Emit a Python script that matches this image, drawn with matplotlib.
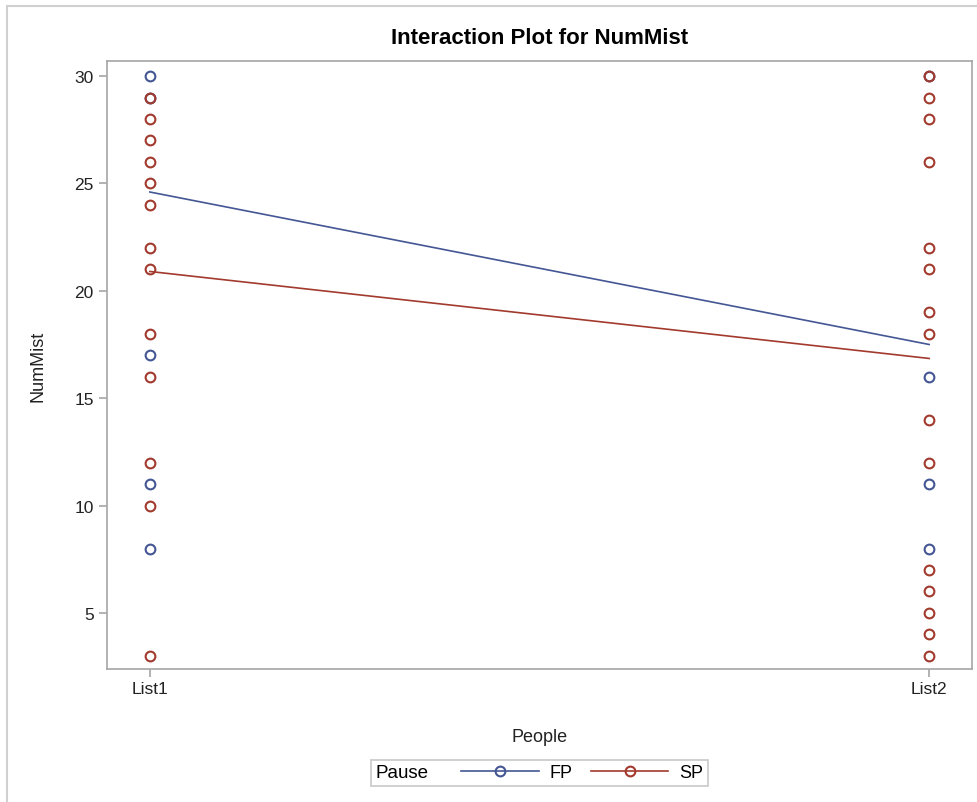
import numpy as np
import matplotlib
matplotlib.use("Agg")
import matplotlib.pyplot as plt
from matplotlib.lines import Line2D
from matplotlib.patches import Rectangle
from matplotlib.offsetbox import HPacker

plt.rcParams['font.family'] = ['Liberation Sans', 'DejaVu Sans']

# data
people = ['List1', 'List2']
groups = ['FP', 'SP']

fp_list1 = [30, 29, 17, 11, 8]
fp_list2 = [30, 16, 11, 8]
sp_list1 = [29, 28, 27, 26, 25, 24, 22, 21, 18, 16, 12, 10, 3]
sp_list2 = [30, 29, 28, 26, 22, 21, 19, 18, 14, 12, 7, 6, 5, 4, 3]

fp_means = [24.6, 17.5]
sp_means = [20.9, 16.85]

yticks = [5, 10, 15, 20, 25, 30]

blue = '#445694'
red = '#A23A2E'
axis_gray = '#a6a6a6'

fig = plt.figure(figsize=(9.78, 8.03), dpi=100)
ax = fig.add_axes([0.1094, 0.1656, 0.8845, 0.7572])

x = np.arange(len(people))

# raw points, red group on top so overlaps look like the original
ax.plot([x[0]] * len(sp_list1), sp_list1, 'o', mfc='none', mec=red, ms=7, mew=1.5, zorder=3)
ax.plot([x[1]] * len(sp_list2), sp_list2, 'o', mfc='none', mec=red, ms=7, mew=1.5, zorder=3)
ax.plot([x[0]] * len(fp_list1), fp_list1, 'o', mfc='none', mec=blue, ms=7, mew=1.5, zorder=2)
ax.plot([x[1]] * len(fp_list2), fp_list2, 'o', mfc='none', mec=blue, ms=7, mew=1.5, zorder=2)

# mean lines
ax.plot(x, fp_means, '-', color=blue, lw=1.2, zorder=4)
ax.plot(x, sp_means, '-', color=red, lw=1.2, zorder=4)

ax.set_xlim(-0.055, 1.055)
ax.set_ylim(2.39, 30.7)
ax.set_xticks(x)
ax.set_xticklabels(people)
ax.set_yticks(yticks)

for s in ax.spines.values():
    s.set_color(axis_gray)
    s.set_linewidth(1.2)
ax.tick_params(axis='both', colors=axis_gray, labelcolor='#222222',
               labelsize=12.5, length=5.5, width=1.2, direction='out')
ax.tick_params(axis='y', pad=4)
ax.tick_params(axis='x', pad=3)

ax.set_xlabel('People', fontsize=13, color='#222222', labelpad=23)
ax.set_ylabel('NumMist', fontsize=13, color='#222222', labelpad=20)
ax.set_title('Interaction Plot for NumMist', fontsize=16, fontweight='bold',
             pad=13)

# legend: "Pause" title sits to the left of the entries
handles = [Line2D([], [], color=blue, lw=1.2, marker='o', mfc='none', mec=blue, ms=7, mew=1.5),
           Line2D([], [], color=red, lw=1.2, marker='o', mfc='none', mec=red, ms=7, mew=1.5)]
leg = ax.legend(handles, groups, title='Pause', ncol=2, loc='lower center',
                bbox_to_anchor=(0.5, -0.207), fontsize=13, title_fontsize=13.5,
                handlelength=4.3, handletextpad=0.6, columnspacing=1.0,
                borderpad=0.25, numpoints=1, fancybox=False, framealpha=1,
                edgecolor='#c8c8c8')
leg.get_frame().set_linewidth(1.2)
fs = leg._fontsize
box = HPacker(pad=leg.borderpad * fs, sep=1.8 * fs, align='center',
              children=[leg._legend_title_box, leg._legend_handle_box])
box.set_figure(fig)
box.axes = ax
leg._legend_box = box
box.set_offset(leg._findoffset)

# outer frame of the screenshot
fig.add_artist(Rectangle((7.5 / 978, -0.2), 1.5, (803 - 6.5) / 803 + 0.2,
                         transform=fig.transFigure, fill=False,
                         edgecolor='#d0d0d0', lw=1.5))

fig.savefig('out.png', dpi=100)
